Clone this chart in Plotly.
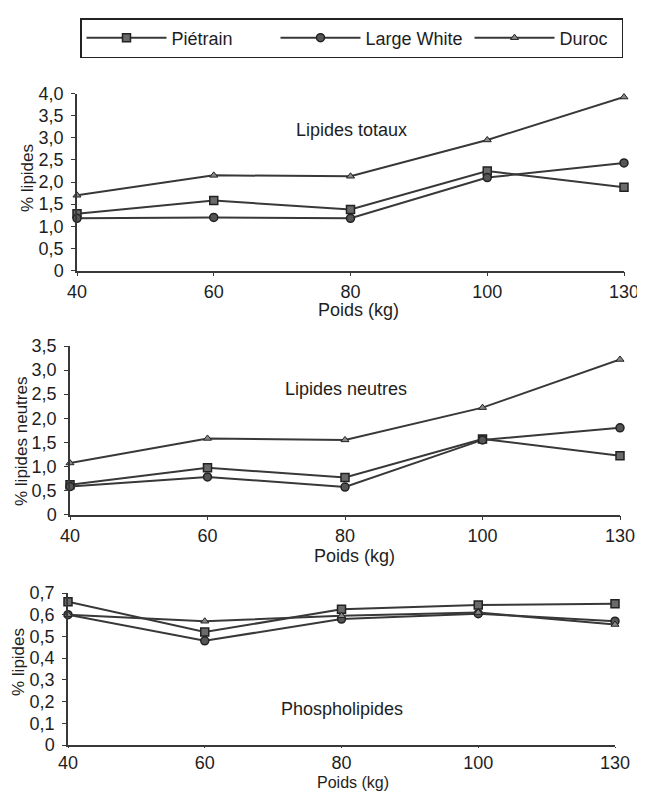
import plotly.graph_objects as go

# The page body adds an 8 px margin; the figure is sized to fill the rest of the window.
OFF = 8
W, H = 645 - OFF, 794 - OFF

poids = ["40", "60", "80", "100", "130"]
series_names = ["Piétrain", "Large White", "Duroc"]

# Panel 1 : Lipides totaux
tot_pietrain = [1.28, 1.58, 1.38, 2.25, 1.88]
tot_lw = [1.18, 1.20, 1.18, 2.10, 2.43]
tot_duroc = [1.70, 2.15, 2.13, 2.95, 3.92]

# Panel 2 : Lipides neutres
neu_pietrain = [0.62, 0.97, 0.77, 1.57, 1.22]
neu_lw = [0.58, 0.78, 0.57, 1.55, 1.80]
neu_duroc = [1.07, 1.58, 1.55, 2.22, 3.22]

# Panel 3 : Phospholipides
pho_pietrain = [0.66, 0.52, 0.625, 0.645, 0.65]
pho_lw = [0.60, 0.48, 0.58, 0.605, 0.57]
pho_duroc = [0.60, 0.57, 0.595, 0.61, 0.555]

y1_ticks = [0, 0.5, 1.0, 1.5, 2.0, 2.5, 3.0, 3.5, 4.0]
y1_text = ["0", "0,5", "1,0", "1,5", "2,0", "2,5", "3,0", "3,5", "4,0"]
y2_ticks = [0, 0.5, 1.0, 1.5, 2.0, 2.5, 3.0, 3.5]
y2_text = ["0", "0,5", "1,0", "1,5", "2,0", "2,5", "3,0", "3,5"]
y3_ticks = [0, 0.1, 0.2, 0.3, 0.4, 0.5, 0.6, 0.7]
y3_text = ["0", "0,1", "0,2", "0,3", "0,4", "0,5", "0,6", "0,7"]

LINE = "#383838"
TXT = "#1e1e1e"
FONT = "Liberation Sans, Arial, sans-serif"

def px_x(p):
    return (p - OFF) / W

def px_y(p):
    return 1 - (p - OFF) / H

marker_styles = {
    "Piétrain": dict(symbol="square", size=8, color="#6a6a6a", line=dict(color="#222", width=1.5)),
    "Large White": dict(symbol="circle", size=8, color="#555", line=dict(color="#222", width=1.5)),
    "Duroc": dict(symbol="triangle-up", size=7, color="#888", line=dict(color="#222", width=1)),
}
legend_widths = {"Piétrain": 99, "Large White": 99, "Duroc": 57}

fig = go.Figure()

panels = [
    ("", "y", [tot_pietrain, tot_lw, tot_duroc]),
    ("2", "y2", [neu_pietrain, neu_lw, neu_duroc]),
    ("3", "y3", [pho_pietrain, pho_lw, pho_duroc]),
]

for i, (suf, yref, data) in enumerate(panels):
    for name, vals in zip(series_names, data):
        fig.add_trace(go.Scatter(
            x=poids, y=vals, name=name, mode="lines+markers",
            xaxis="x" + suf, yaxis=yref,
            line=dict(color=LINE, width=2),
            marker=marker_styles[name],
            showlegend=(i == 0), cliponaxis=False,
            legendwidth=legend_widths[name],
        ))

# pixel geometry of panels in window pixels: (x_left, x_right, y_bottom, y_top)
geo = [(77, 624, 270.5, 93.5), (70, 620, 514.5, 346), (68, 615, 745, 593)]
yranges = [[0, 4], [0, 3.5], [0, 0.7]]
yticks = [(y1_ticks, y1_text), (y2_ticks, y2_text), (y3_ticks, y3_text)]
xticklens = [4, 4, 1]

axis_common = dict(showline=True, linecolor=LINE, linewidth=1.5, showgrid=False,
                   zeroline=False, ticks="outside", ticklen=4, tickcolor=LINE,
                   automargin=False,
                   tickfont=dict(family=FONT, size=18, color=TXT))

layout_axes = {}
for i, (x0, x1, yb, yt) in enumerate(geo):
    suf = "" if i == 0 else str(i + 1)
    layout_axes["xaxis" + suf] = dict(
        axis_common, type="category", range=[0, 4], ticklen=xticklens[i],
        domain=[px_x(x0), px_x(x1)], anchor="y" + suf,
    )
    layout_axes["yaxis" + suf] = dict(
        axis_common, range=yranges[i],
        domain=[px_y(yb), px_y(yt)], anchor="x" + suf,
        tickvals=yticks[i][0], ticktext=yticks[i][1], ticklabelstandoff=4,
    )

annotations = []
def ann(text, x, y, size=18, angle=0):
    annotations.append(dict(text=text, x=px_x(x), y=px_y(y), xref="paper", yref="paper",
                            showarrow=False, textangle=angle,
                            font=dict(family=FONT, size=size, color=TXT),
                            xanchor="center", yanchor="middle"))

ann("Lipides totaux", 351, 130)
ann("Lipides neutres", 346, 389)
ann("Phospholipides", 342, 709)
ann("% lipides", 27, 178, size=17, angle=-90)
ann("% lipides neutres", 21, 442, size=17, angle=-90)
ann("% lipides", 18, 662, size=17, angle=-90)
ann("Poids (kg)", 358, 310)
ann("Poids (kg)", 354, 556)
ann("Poids (kg)", 353, 782.5, size=16)

fig.update_layout(
    width=W, height=H,
    margin=dict(l=0, r=0, t=0, b=0, autoexpand=False),
    paper_bgcolor="white", plot_bgcolor="white",
    font=dict(family=FONT, size=18, color=TXT),
    showlegend=True,
    legend=dict(orientation="h", x=px_x(80), y=px_y(18), xanchor="left", yanchor="top",
                bordercolor="#222", borderwidth=1.5,
                font=dict(family=FONT, size=18, color=TXT), itemwidth=80),
    annotations=annotations,
    **layout_axes,
)

fig.write_html("out.html")
